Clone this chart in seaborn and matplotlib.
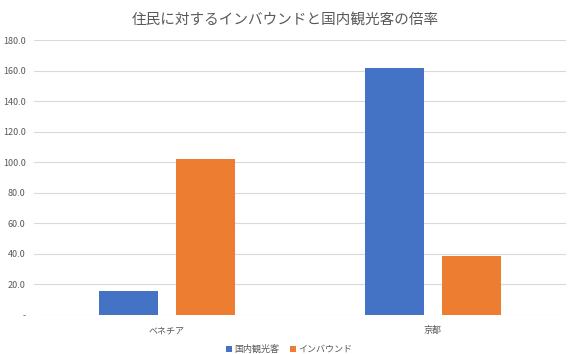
import matplotlib
matplotlib.use("Agg")
import matplotlib.pyplot as plt
import pandas as pd
import seaborn as sns

# データ
cities = ['ベネチア', '京都']
series_names = ['国内観光客', 'インバウンド']
domestic = [15.6, 161.5]
inbound = [102.0, 38.6]
y_ticks = [0, 20, 40, 60, 80, 100, 120, 140, 160, 180]

df = pd.DataFrame({
    'city': cities * 2,
    'series': [series_names[0]] * 2 + [series_names[1]] * 2,
    'value': domestic + inbound,
})

sns.set_theme(style='white')
plt.rcParams['font.family'] = ['Noto Sans CJK JP', 'DejaVu Sans']

fig = plt.figure(figsize=(5.7, 3.54), dpi=100)
ax = fig.add_axes([34 / 570, 39 / 354, 532 / 570, 275 / 354])

sns.barplot(data=df, x='city', y='value', hue='series',
            palette=['#4472C4', '#ED7D31'], width=0.572, gap=0.224,
            saturation=1, linewidth=0, ax=ax, zorder=3)

ax.set_xlim(-0.5, 1.5)
ax.set_ylim(0, 180)
ax.set_yticks(y_ticks)
ax.set_yticklabels(['-' if v == 0 else f'{v:.1f}' for v in y_ticks])
ax.grid(axis='y', color='#D9D9D9', linewidth=0.8, zorder=0)
ax.set_axisbelow(True)
for s in ax.spines.values():
    s.set_visible(False)
ax.tick_params(axis='both', length=0, labelsize=6.5, colors='#595959', pad=6)
ax.tick_params(axis='x', pad=8)
ax.set_xlabel('')
ax.set_ylabel('')

ax.legend(loc='upper center', bbox_to_anchor=(0.48, -0.105), ncol=2, frameon=False,
          fontsize=6.5, handlelength=0.6, handleheight=0.6, columnspacing=1.2,
          handletextpad=0.3, labelcolor='#595959', borderpad=0.1, borderaxespad=0)

fig.suptitle('住民に対するインバウンドと国内観光客の倍率', y=0.965, fontsize=10.5,
             color='#595959')

fig.savefig('out.png', dpi=100)
